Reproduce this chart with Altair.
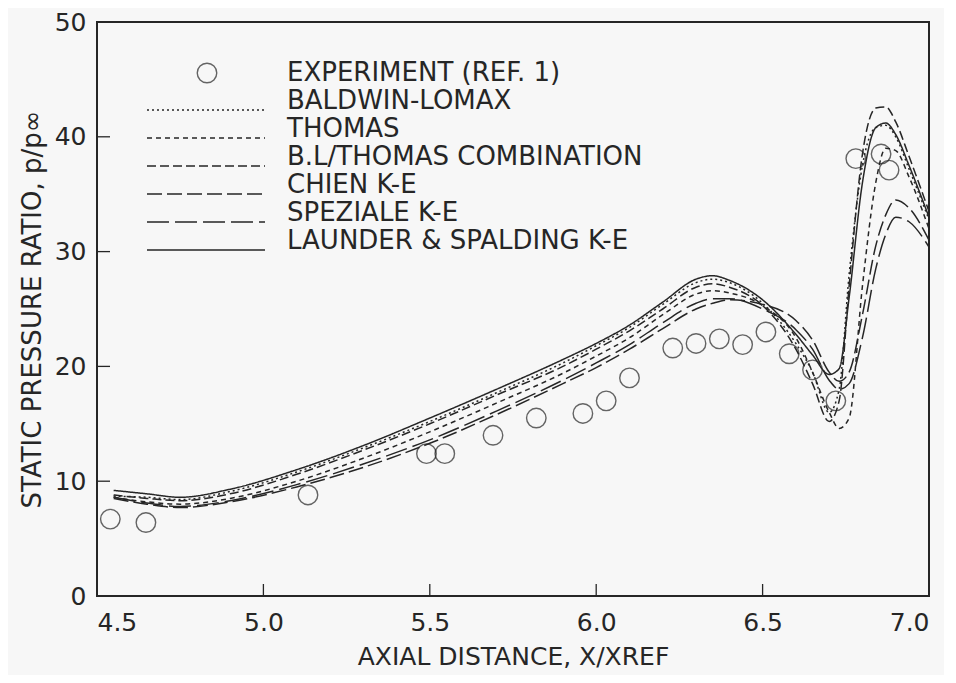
import altair as alt
import pandas as pd

# ---------------- data ----------------
X = [4.55, 4.65, 4.75, 4.9, 5.1, 5.3, 5.5, 5.7, 5.9, 6.0, 6.1, 6.2, 6.3, 6.35, 6.4,
     6.5, 6.6, 6.65, 6.7, 6.73, 6.76, 6.8, 6.84, 6.87, 6.9, 6.94, 7.0]

LAUNDER = [9.2, 8.9, 8.6, 9.3, 11.0, 13.1, 15.5, 18.0, 20.6, 22.0, 23.6, 25.6, 27.6, 27.9, 27.5,
           25.8, 22.8, 21.0, 19.3, 19.8, 26.0, 36.0, 40.8, 41.2, 40.2, 37.5, 33.0]
BALDWIN = [8.7, 8.6, 8.4, 9.1, 10.8, 12.9, 15.2, 17.7, 20.3, 21.8, 23.4, 25.4, 27.3, 27.6, 27.3,
           25.5, 22.0, 19.5, 16.0, 18.0, 28.0, 37.5, 40.8, 41.0, 40.0, 37.2, 32.8]
BLTHOMAS = [8.8, 8.5, 8.3, 8.9, 10.6, 12.7, 15.0, 17.5, 20.0, 21.5, 23.1, 25.0, 26.9, 27.2, 26.9,
            25.3, 21.5, 18.5, 15.2, 17.0, 27.0, 38.5, 42.5, 42.6, 41.3, 38.3, 33.5]
THOMAS = [8.6, 8.2, 8.0, 8.5, 10.0, 12.0, 14.3, 16.8, 19.4, 20.9, 22.5, 24.5, 26.3, 26.6, 26.4,
          25.3, 22.5, 19.5, 16.0, 14.6, 15.5, 27.0, 36.0, 39.0, 38.8, 36.5, 32.0]
CHIEN = [8.5, 8.0, 7.7, 8.2, 9.5, 11.2, 13.3, 15.8, 18.5, 19.9, 21.5, 23.3, 25.0, 25.5, 25.8,
         25.4, 24.0, 22.3, 19.5, 18.7, 19.5, 24.5, 30.5, 33.2, 34.5, 33.8, 31.0]
SPEZIALE = [8.6, 8.1, 7.8, 8.3, 9.7, 11.5, 13.6, 16.1, 18.8, 20.3, 21.9, 23.8, 25.5, 25.9, 25.9,
            25.0, 23.2, 21.5, 18.8, 18.0, 18.5, 22.5, 28.5, 31.5, 33.0, 32.6, 30.4]

EXP_X = [4.54, 4.647, 5.134, 5.49, 5.545, 5.69, 5.82, 5.96, 6.03, 6.10, 6.23, 6.30, 6.37,
         6.44, 6.51, 6.58, 6.65, 6.72, 6.78, 6.856, 6.88]
EXP_Y = [6.7, 6.4, 8.8, 12.4, 12.4, 14.0, 15.5, 15.9, 17.0, 19.0, 21.6, 22.0, 22.4,
         21.9, 23.0, 21.1, 19.7, 17.0, 38.1, 38.5, 37.1]

SERIES = ["BALDWIN-LOMAX", "THOMAS", "B.L/THOMAS COMBINATION", "CHIEN K-E",
          "SPEZIALE K-E", "LAUNDER & SPALDING K-E"]
SERIES_VALUES = [BALDWIN, THOMAS, BLTHOMAS, CHIEN, SPEZIALE, LAUNDER]
DASHES = [[2, 3], [5, 4], [9, 4], [15, 5], [22, 6], [1, 0]]

X_TICKS = [4.5, 5.0, 5.5, 6.0, 6.5, 7.0]
Y_TICKS = [0, 10, 20, 30, 40, 50]

# ---------------- style ----------------
INK = "#262626"
FONT = "DejaVu Sans"
W, H = 832, 574

xs = alt.Scale(domain=[4.5, 7.0], nice=False, zero=False)
ys = alt.Scale(domain=[0, 50], nice=False)

x_axis = alt.Axis(values=X_TICKS, format=".1f", ticks=False, domain=False, grid=False,
                  labelFontSize=25, labelPadding=14, labelColor=INK, labelFont=FONT,
                  title="AXIAL DISTANCE, X/XREF", titleFontSize=25, titleFontWeight="normal",
                  titleColor=INK, titleFont=FONT, titlePadding=9)
y_axis = alt.Axis(values=Y_TICKS, format="d", ticks=False, domain=False, grid=False,
                  labelFontSize=25, labelPadding=11, labelColor=INK, labelFont=FONT,
                  title="STATIC PRESSURE RATIO, p/p∞", titleFontSize=26, titleFontWeight="normal",
                  titleColor=INK, titleFont=FONT, titlePadding=9)

layers = []

exp_df = pd.DataFrame({"x": EXP_X, "y": EXP_Y})
base_pts = alt.Chart(exp_df).mark_point(shape="circle", size=380, filled=False,
                                        stroke=INK, strokeWidth=1.4).encode(
    x=alt.X("x:Q", scale=xs, axis=x_axis),
    y=alt.Y("y:Q", scale=ys, axis=y_axis),
)
layers.append(base_pts)

for name, vals, dash in zip(SERIES, SERIES_VALUES, DASHES):
    df = pd.DataFrame({"x": X, "y": vals, "s": name})
    layers.append(
        alt.Chart(df).mark_line(interpolate="monotone", color=INK, strokeWidth=1.5,
                                strokeDash=dash).encode(
            x=alt.X("x:Q", scale=xs), y=alt.Y("y:Q", scale=ys))
    )

# inward tick marks
xt = pd.DataFrame({"x": X_TICKS[1:-1]})
layers.append(alt.Chart(xt).mark_rule(color=INK, strokeWidth=1.3).encode(
    x=alt.X("x:Q", scale=xs), y=alt.value(H), y2=alt.value(H - 12)))
yt = pd.DataFrame({"y": Y_TICKS[1:-1]})
layers.append(alt.Chart(yt).mark_rule(color=INK, strokeWidth=1.3).encode(
    y=alt.Y("y:Q", scale=ys), x=alt.value(0), x2=alt.value(13)))

# manual legend (pixel positions inside plot area)
LEG_TOP, LEG_STEP = 51, 28
leg_lab = ["EXPERIMENT (REF. 1)"] + SERIES
leg_df = pd.DataFrame({"label": leg_lab,
                       "py": [LEG_TOP + i * LEG_STEP for i in range(len(leg_lab))]})
layers.append(alt.Chart(leg_df).mark_text(align="left", baseline="middle", fontSize=26,
                                          font=FONT, color=INK).encode(
    x=alt.value(190), y=alt.Y("py:Q", scale=None), text="label:N"))
layers.append(alt.Chart(leg_df.iloc[:1]).mark_point(shape="circle", size=380, filled=False,
                                                    stroke=INK, strokeWidth=1.4).encode(
    x=alt.value(110), y=alt.Y("py:Q", scale=None)))
for i, dash in enumerate(DASHES):
    row = leg_df.iloc[i + 1:i + 2].assign(py2=lambda d: d.py + 9)
    layers.append(alt.Chart(row).mark_rule(color=INK, strokeWidth=1.5, strokeDash=dash).encode(
        y=alt.Y("py2:Q", scale=None), x=alt.value(50), x2=alt.value(168)))

chart = alt.layer(*layers).properties(
    width=W, height=H,
    autosize=alt.AutoSizeParams(type="none"),
    padding={"left": 89, "top": 14, "right": 15, "bottom": 79},
    background="#f7f7f7",
).configure_view(stroke=INK, strokeWidth=2)

chart.save("out.html", embed_options={"renderer": "svg", "actions": False})
